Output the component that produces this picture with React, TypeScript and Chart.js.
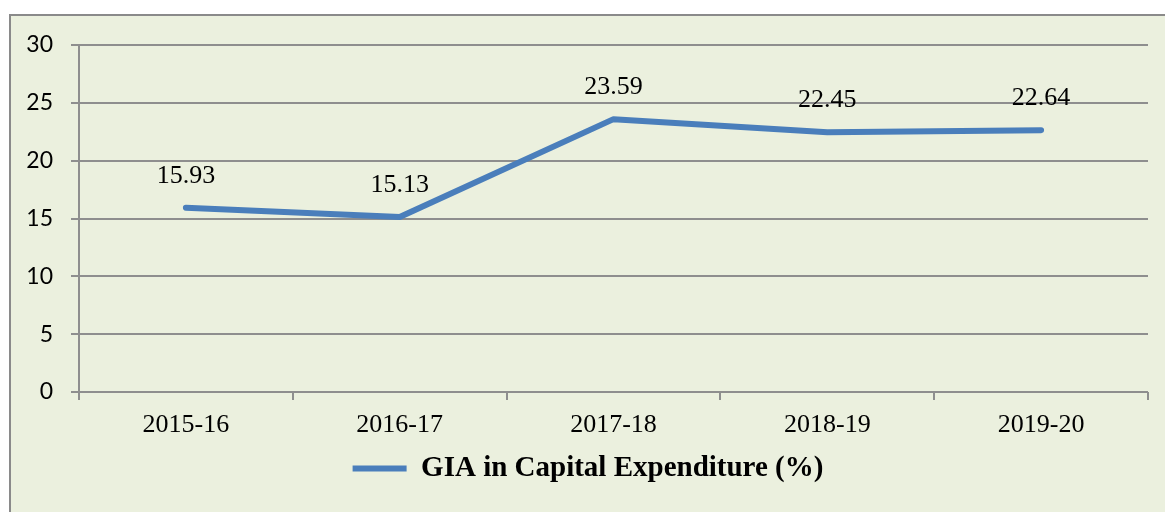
import React, { useEffect, useRef } from "react";
import { Chart, registerables } from "chart.js";

Chart.register(...registerables);

const categories: string[] = ["2015-16", "2016-17", "2017-18", "2018-19", "2019-20"];
const giaValues: number[] = [15.93, 15.13, 23.59, 22.45, 22.64];
const seriesName = "GIA in Capital Expenditure (%)";
const yTicks: number[] = [0, 5, 10, 15, 20, 25, 30];

const SERIF = "'Liberation Serif', 'Times New Roman', serif";
const SANS = "Lato, 'Liberation Sans', sans-serif";
const LINE_COLOR = "#4A7EBB";
const GRID_COLOR = "#8E8E8E";

const dataLabelPlugin = {
  id: "dataLabels",
  afterDatasetsDraw(chart: any) {
    const ctx = chart.ctx;
    const meta = chart.getDatasetMeta(0);
    ctx.save();
    ctx.font = `26px ${SERIF}`;
    ctx.fillStyle = "#000";
    ctx.textAlign = "center";
    ctx.textBaseline = "middle";
    meta.data.forEach((pt: any, i: number) => {
      ctx.fillText(giaValues[i].toFixed(2), pt.x, pt.y - 32);
    });
    ctx.restore();
  },
};

const legendShiftPlugin = {
  id: "legendShift",
  afterLayout(chart: any) {
    if (chart.legend) {
      chart.legend.left += 14;
      chart.legend.right += 14;
    }
  },
};

export default function App() {
  const ref = useRef<HTMLCanvasElement | null>(null);

  useEffect(() => {
    if (!ref.current) return;
    const chart = new Chart(ref.current, {
      type: "line",
      data: {
        labels: categories,
        datasets: [
          {
            label: seriesName,
            data: giaValues,
            borderColor: LINE_COLOR,
            backgroundColor: LINE_COLOR,
            borderWidth: 6,
            borderCapStyle: "round",
            borderJoinStyle: "round",
            pointRadius: 0,
            pointHoverRadius: 0,
            tension: 0,
            fill: false,
          },
        ],
      },
      options: {
        responsive: false,
        animation: false,
        devicePixelRatio: 1,
        layout: { padding: { left: 0, right: 17, top: 45, bottom: 19 } },
        plugins: {
          tooltip: { enabled: false },
          legend: {
            display: true,
            position: "bottom",
            labels: {
              usePointStyle: true,
              pointStyle: "line",
              pointStyleWidth: 54,
              boxHeight: 6,
              color: "#000",
              padding: 10,
              font: { family: SERIF, size: 29, weight: "bold" },
            },
          },
        },
        scales: {
          x: {
            offset: true,
            grid: {
              offset: true,
              drawOnChartArea: false,
              drawTicks: true,
              tickLength: 8,
              color: GRID_COLOR,
              lineWidth: 2,
            },
            border: { display: false },
            ticks: {
              color: "#000",
              padding: 10,
              font: { family: SERIF, size: 26 },
              maxRotation: 0,
            },
            afterFit(scale: any) {
              scale.height = 52;
            },
          },
          y: {
            min: 0,
            max: 30,
            afterBuildTicks(scale: any) {
              scale.ticks = yTicks.map((v) => ({ value: v }));
            },
            grid: {
              color: GRID_COLOR,
              lineWidth: 2,
              tickLength: 8,
              drawTicks: true,
            },
            border: { display: true, color: GRID_COLOR, width: 2 },
            ticks: {
              color: "#000",
              padding: 18,
              font: { family: SANS, size: 23 },
            },
            afterFit(scale: any) {
              scale.width = 79;
            },
          },
        },
      },
      plugins: [dataLabelPlugin, legendShiftPlugin],
    } as any);
    return () => chart.destroy();
  }, []);

  return (
    <div
      style={{
        position: "fixed",
        left: 0,
        top: 0,
        width: 1165,
        height: 512,
        background: "#ffffff",
        overflow: "hidden",
      }}
    >
      <div
        style={{
          position: "absolute",
          left: 9,
          top: 14,
          width: 1180,
          height: 540,
          background: "#EBF0DE",
          border: "2px solid #8A8A8A",
          boxSizing: "border-box",
        }}
      />
      <canvas
        ref={ref}
        width={1165}
        height={512}
        style={{ position: "absolute", left: 0, top: 0, width: 1165, height: 512 }}
      />
    </div>
  );
}
